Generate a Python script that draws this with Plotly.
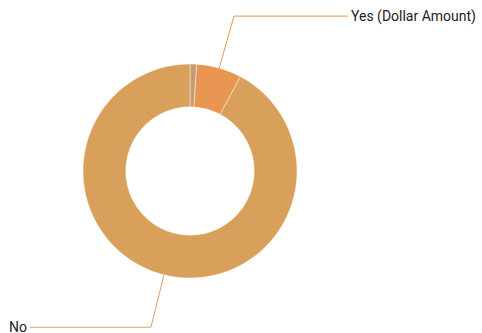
import numpy as np
import plotly.graph_objects as go

labels = ["Other", "Yes (Dollar Amount)", "No"]
values = [1.0, 6.8, 92.2]
colors = ["#C49C72", "#E99552", "#D9A05B"]
show_label = [False, True, True]

W, H = 482, 333
cx, cy, r = 190, 171, 107
elbow_r = 161

fig = go.Figure()
fig.add_trace(go.Pie(
    labels=labels,
    values=values,
    hole=0.6,
    sort=False,
    direction="clockwise",
    rotation=0,
    textinfo="none",
    marker=dict(colors=colors, line=dict(color="rgba(255,255,255,0.7)", width=0.6)),
    domain=dict(x=[(cx - r) / W, (cx + r) / W], y=[1 - (cy + r) / H, 1 - (cy - r) / H]),
    showlegend=False,
    hoverinfo="label+percent",
))

# leader lines from slice midpoints
shapes = []
annotations = []
total = sum(values)
cum = np.cumsum([0] + values[:-1]) / total
mids = (cum + np.array(values) / total / 2) * 2 * np.pi

def to_paper(px, py):
    return px / W, 1 - py / H

for lab, a, c, show in zip(labels, mids, colors, show_label):
    if not show:
        continue
    x0, y0 = cx + r * np.sin(a), cy - r * np.cos(a)
    x1, y1 = cx + elbow_r * np.sin(a), cy - elbow_r * np.cos(a)
    right = np.sin(a) >= 0
    x2 = 348 if right else 30
    pts = [to_paper(x0, y0), to_paper(x1, y1), to_paper(x2, y1)]
    path = "M {} {} L {} {} L {} {}".format(*[v for p in pts for v in p])
    shapes.append(dict(type="path", path=path, xref="paper", yref="paper",
                       line=dict(color=c, width=1)))
    annotations.append(dict(
        x=pts[2][0] + (0.002 if right else -0.002), y=pts[2][1],
        xref="paper", yref="paper", text=lab, showarrow=False,
        xanchor="left" if right else "right", yanchor="middle",
        font=dict(family="Roboto", size=14, color="#222222"),
    ))

fig.update_layout(
    width=W, height=H,
    margin=dict(l=0, r=0, t=0, b=0),
    paper_bgcolor="white",
    plot_bgcolor="white",
    shapes=shapes,
    annotations=annotations,
)

# drop the default body margin so the chart fills the window exactly
fig.write_html("out.html", config={"displayModeBar": False},
               post_script="document.body.style.margin='0';document.body.style.overflow='hidden';")
